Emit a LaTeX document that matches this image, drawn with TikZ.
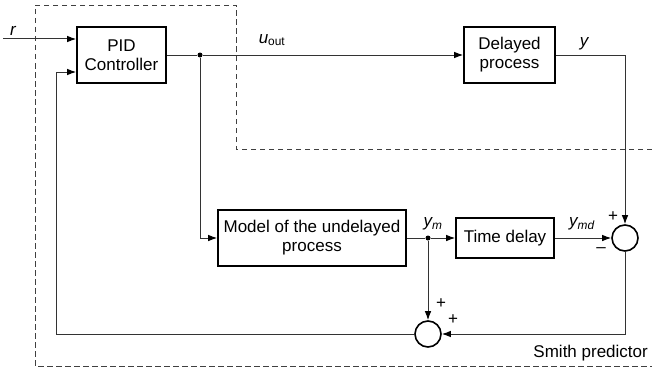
\documentclass[tikz,border=0pt]{standalone}
\usepackage{fontspec}
\setmainfont{Liberation Sans}
\usetikzlibrary{arrows.meta,calc}
\begin{document}
\begin{tikzpicture}[x=1pt,y=-1pt,
  font=\fontsize{17}{19}\selectfont,
  blk/.style={draw=black,line width=1.6pt,minimum width=#1,inner sep=0pt,align=center},
  sumnode/.style={draw=black,line width=1.6pt,circle,minimum size=26pt,inner sep=0pt},
  sig/.style={draw=black!80,line width=1pt},
  arr/.style={sig,-{Latex[length=9pt,width=6.5pt,color=black]}},
  jdot/.style={circle,fill=black,minimum size=5pt,inner sep=0pt},
  border/.style={draw=black!75,line width=0.9pt,dash pattern=on 5.5pt off 3.5pt},
  lbl/.style={inner sep=0pt}
]
\useasboundingbox (0,0) rectangle (652,369);
% dashed boundary
\draw[border] (652,149) -- (236,149) -- (236,5) -- (35,5) -- (35,366) -- (652,366);
% blocks
\node[blk=89pt,minimum height=56pt] (pid) at (121.5,55) {PID\\Controller};
\node[blk=91pt,minimum height=56pt] (del) at (509.5,55) {Delayed\\process};
\node[blk=188pt,minimum height=56pt] (model) at (312,238) {Model of the undelayed\\process};
\node[blk=98pt,minimum height=40pt] (td) at (505,238) {Time delay};
\node[sumnode] (s1) at (625,238) {};
\node[sumnode] (s2) at (428,334) {};
\node[jdot] (d1) at (200,55) {};
\node[jdot] (d2) at (428,238) {};
\coordinate (rin) at (3,39);
\coordinate (fb) at (56,72);
\coordinate (yc) at (625,55);
% connectors
\draw[arr] (rin) -- (pid.west |- rin);
\draw[sig] (pid.east) -- (d1);
\draw[arr] (d1) -- (del.west);
\draw[sig] (del.east) -- (yc);
\draw[arr] (yc) -- (s1.north);
\draw[arr] (d1) |- (model.west);
\draw[sig] (model.east) -- (d2);
\draw[arr] (d2) -- (td.west);
\draw[arr] (td.east) -- (s1.west);
\draw[arr] (s1.south) |- (s2.east);
\draw[arr] (d2) -- (s2.north);
\draw[sig] (s2.west) -| (fb);
\draw[arr] (fb) -- (pid.west |- fb);
% labels
\node[lbl] (lr) at (13,31) {\itshape r};
\node[lbl] (lu) at (272,40) {\itshape u\normalfont\textsubscript{out}};
\node[lbl] (ly) at (584,44) {\itshape y};
\node[lbl] (lym) at (433,224) {\itshape y\textsubscript{m}};
\node[lbl] (lymd) at (582,224) {\itshape y\textsubscript{md}};
\node[lbl] (p1) at (613,217) {+};
\node[lbl] (m1) at (601,250) {\textendash};
\node[lbl] (p2) at (441,304) {+};
\node[lbl] (p3) at (453,320) {+};
\node[lbl,anchor=east] (smith) at (648,353) {Smith predictor};
\end{tikzpicture}
\end{document}
